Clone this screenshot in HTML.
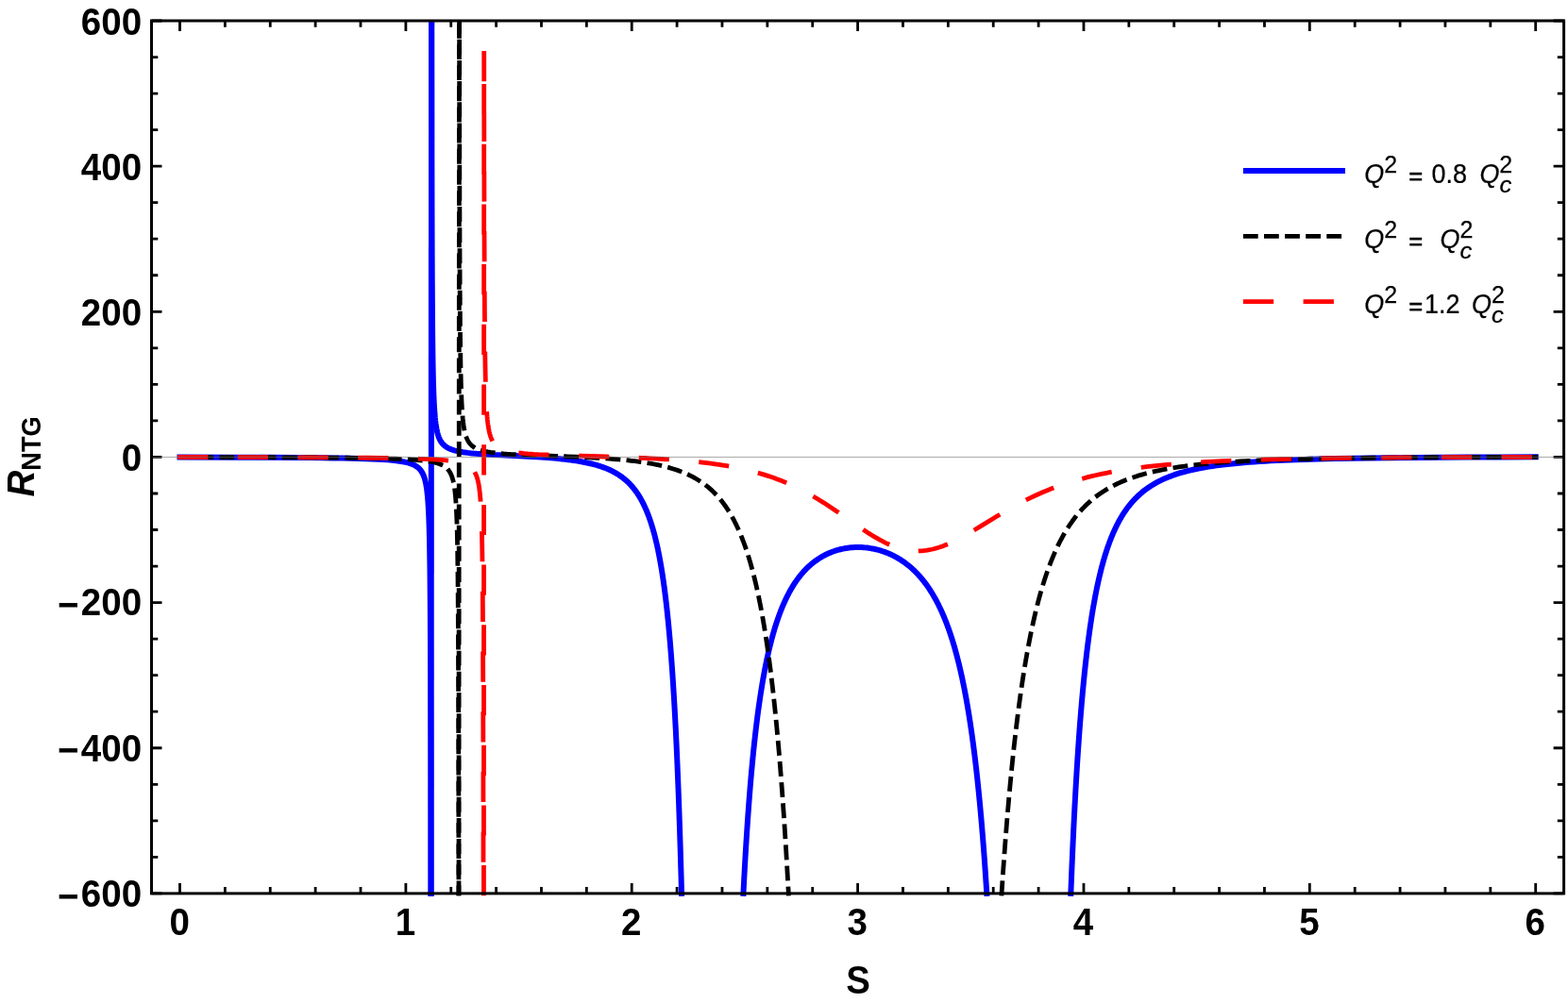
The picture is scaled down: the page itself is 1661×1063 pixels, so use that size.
<!DOCTYPE html>
<html><head><meta charset="utf-8"><title>R_NTG vs S</title>
<style>
html,body{margin:0;padding:0;background:#fff;}
body{width:1661px;height:1063px;overflow:hidden;}
svg{display:block;}
text{font-family:"Liberation Sans",sans-serif;fill:#000;}
.tl{font-weight:bold;font-size:41px;}
.lg{font-size:27px;}
</style></head><body>
<svg width="1661" height="1063" viewBox="0 0 1661 1063">
<rect width="1661" height="1063" fill="#fff"/>

<defs><clipPath id="pc"><rect x="150" y="21.6" width="1520" height="940"/></clipPath></defs>
<g clip-path="url(#pc)" fill="none" stroke-linecap="square" stroke-linejoin="bevel">
<g stroke="#0000ff" stroke-width="6.0">
<path d="M190.50 484.45L246.91 484.63L285.22 484.80L316.42 485.00L329.66 485.12L341.63 485.25L352.81 485.39L362.85 485.56L371.96 485.75L380.14 485.95L387.53 486.18L394.25 486.43L400.30 486.72L405.82 487.03L410.81 487.38L415.33 487.77L419.46 488.21L421.32 488.44L423.12 488.69L424.84 488.96L426.44 489.23L427.97 489.51L429.43 489.82L430.83 490.14L432.09 490.46L433.36 490.82L434.56 491.20L435.69 491.59L436.75 492.01L437.75 492.43L438.75 492.91L439.68 493.40L440.54 493.91L441.34 494.42L442.14 495.00L442.87 495.58L443.60 496.23L444.27 496.89L444.87 497.54L445.47 498.26L446.06 499.05L446.60 499.84L447.13 500.72L447.59 501.56L448.06 502.50L448.53 503.54L448.92 504.53L449.32 505.63L449.72 506.84L450.05 507.97L450.39 509.21L450.72 510.58L450.99 511.79L451.32 513.46L451.58 514.95L451.85 516.61L452.12 518.44L452.58 522.20L452.98 526.15L453.38 530.99L453.71 535.97L454.05 542.12L454.31 548.20L454.58 555.70L454.78 562.57L454.98 570.91L455.18 581.22L455.38 594.30L455.52 605.68L455.64 618.40L455.85 646.30L456.04 683.89L456.17 722.64L456.31 780.01L456.44 869.01L456.51 946.90"/>
<path d="M456.60 946.90L457.10 22.00"/>
<path d="M457.22 22.00L457.35 147.54L457.48 219.42L457.61 265.99L457.75 298.61L457.94 332.59L458.14 356.04L458.28 368.02L458.41 377.94L458.54 386.30L458.74 396.62L458.94 404.97L459.14 411.87L459.34 417.65L459.60 424.06L459.87 429.34L460.13 433.76L460.46 438.38L460.79 442.22L461.19 446.05L461.59 449.23L462.05 452.33L462.54 455.04L462.85 456.53L463.11 457.69L463.37 458.76L463.71 459.98L464.04 461.08L464.37 462.09L464.70 463.02L465.03 463.87L465.43 464.80L465.83 465.65L466.22 466.43L466.69 467.25L467.15 468.01L467.61 468.70L468.14 469.42L468.67 470.07L469.20 470.67L469.80 471.28L470.39 471.84L470.99 472.36L471.65 472.88L472.32 473.36L473.04 473.84L473.77 474.28L474.57 474.72L475.36 475.12L476.22 475.52L477.15 475.91L478.08 476.27L479.07 476.62L480.13 476.96L481.19 477.27L482.31 477.58L483.51 477.88L484.77 478.16L486.09 478.44L488.21 478.83L490.46 479.20L492.91 479.55L495.56 479.88L498.41 480.20L501.45 480.49L504.76 480.78L508.34 481.06L514.90 481.50L522.58 481.94L530.59 482.36L554.83 483.54L562.38 483.95L569.13 484.35L576.48 484.83L583.24 485.34L589.53 485.88L595.42 486.46L598.60 486.81L601.72 487.18L604.70 487.56L607.54 487.95L610.32 488.36L613.04 488.79L615.69 489.25L618.21 489.71L620.72 490.21L623.11 490.72L625.42 491.25L627.68 491.79L629.86 492.37L631.98 492.96L634.03 493.57L636.09 494.23L638.01 494.88L639.93 495.57L641.78 496.29L643.57 497.02L645.29 497.77L647.01 498.57L648.67 499.38L650.32 500.25L651.91 501.13L653.50 502.06L655.03 503.00L656.48 503.96L657.94 504.97L659.33 506.00L660.72 507.08L662.05 508.16L663.37 509.30L664.63 510.45L665.89 511.66L667.14 512.93L668.34 514.20L669.53 515.54L670.72 516.95L671.85 518.35L672.97 519.82L674.10 521.37L675.16 522.90L676.22 524.51L677.28 526.20L678.27 527.86L679.26 529.61L680.19 531.32L681.38 533.63L682.51 535.94L683.63 538.39L684.76 540.99L685.82 543.58L686.88 546.31L687.94 549.21L688.93 552.08L689.93 555.11L690.85 558.10L691.78 561.25L692.71 564.57L693.63 568.08L694.49 571.51L695.36 575.13L696.22 578.94L697.08 582.97L697.87 586.88L698.67 590.99L699.40 594.95L700.19 599.49L700.92 603.87L701.65 608.47L702.38 613.31L703.10 618.39L703.77 623.24L704.43 628.33L705.09 633.67L705.75 639.27L706.35 644.55L706.94 650.07L707.54 655.84L708.14 661.89L708.73 668.23L709.33 674.87L709.86 681.04L710.92 694.22L711.98 708.62L712.97 723.34L713.96 739.40L714.89 755.74L715.82 773.53L716.68 791.51L717.54 811.04L718.33 830.61L719.13 851.82L719.92 874.85L720.65 897.75L721.38 922.54L722.04 946.90"/>
<path d="M787.45 946.90L788.16 933.10L788.93 918.86L789.70 905.40L790.48 892.65L791.25 880.58L792.09 868.21L792.93 856.51L793.77 845.45L794.60 834.96L795.51 824.28L796.41 814.17L797.38 803.95L798.34 794.30L799.38 784.59L800.41 775.43L801.44 766.79L802.53 758.13L803.63 749.97L804.79 741.83L805.95 734.16L807.18 726.54L808.40 719.36L809.69 712.26L810.98 705.58L812.34 698.98L813.69 692.78L815.11 686.68L816.59 680.69L818.07 675.07L818.85 672.27L819.62 669.57L820.40 666.95L821.23 664.20L822.01 661.74L822.85 659.17L823.68 656.68L824.52 654.27L825.36 651.94L826.26 649.51L827.17 647.16L828.07 644.89L828.97 642.70L829.94 640.43L830.90 638.24L831.87 636.13L832.84 634.09L833.81 632.12L834.84 630.09L835.87 628.14L836.90 626.25L837.93 624.43L838.96 622.68L840.06 620.88L841.16 619.15L842.25 617.48L843.35 615.87L844.51 614.24L845.67 612.66L846.90 611.06L848.06 609.60L849.28 608.13L850.51 606.71L851.73 605.34L852.96 604.03L854.25 602.71L855.54 601.44L856.89 600.17L858.24 598.95L859.60 597.79L861.02 596.62L862.43 595.51L863.85 594.45L865.27 593.44L866.75 592.43L868.24 591.48L869.72 590.57L871.27 589.68L872.82 588.83L874.36 588.03L875.91 587.28L877.52 586.54L879.13 585.84L880.81 585.17L882.49 584.54L884.16 583.96L885.84 583.43L887.52 582.93L889.26 582.46L891.00 582.04L892.74 581.66L894.48 581.32L896.22 581.02L898.03 580.75L899.83 580.53L901.64 580.34L903.44 580.20L905.25 580.10L907.05 580.04L908.86 580.02L910.73 580.04L912.66 580.11L914.60 580.22L916.47 580.38L918.40 580.58L920.27 580.82L922.14 581.10L924.01 581.43L925.88 581.80L927.75 582.21L929.62 582.67L931.43 583.16L933.29 583.71L935.10 584.28L936.91 584.91L938.71 585.58L940.52 586.29L942.26 587.03L944.00 587.81L945.74 588.64L947.48 589.53L949.16 590.42L950.83 591.37L952.44 592.32L954.12 593.37L955.73 594.42L957.35 595.53L958.89 596.64L960.44 597.81L961.99 599.02L963.53 600.29L965.02 601.56L966.50 602.89L967.92 604.21L969.34 605.58L970.76 607.01L972.17 608.50L973.53 609.97L974.88 611.50L976.24 613.09L977.59 614.74L978.88 616.37L980.17 618.06L981.46 619.82L982.75 621.64L983.97 623.43L985.20 625.28L986.36 627.10L987.52 628.98L988.68 630.92L989.84 632.94L991.00 635.02L992.16 637.17L993.26 639.27L994.36 641.45L995.45 643.70L996.55 646.02L997.58 648.28L998.61 650.61L999.64 653.02L1000.67 655.51L1001.64 657.92L1002.61 660.40L1003.58 662.96L1004.54 665.61L1005.45 668.15L1006.35 670.77L1007.25 673.47L1008.15 676.26L1009.06 679.13L1009.96 682.09L1010.80 684.92L1012.47 690.85L1013.31 693.94L1014.15 697.13L1015.76 703.54L1017.31 710.07L1018.86 716.98L1020.34 724.01L1021.76 731.11L1023.18 738.63L1024.53 746.22L1025.88 754.24L1027.17 762.31L1028.46 770.85L1029.69 779.41L1030.91 788.45L1032.14 798.00L1033.30 807.56L1034.46 817.65L1035.56 827.71L1036.65 838.32L1037.68 848.84L1038.72 859.93L1039.75 871.62L1040.71 883.17L1041.68 895.32L1042.65 908.14L1043.55 920.73L1044.45 933.97L1045.29 946.90"/>
<path d="M1134.32 946.90L1135.43 919.38L1136.54 894.11L1137.15 880.97L1137.71 869.50L1138.26 858.76L1138.88 847.18L1139.49 836.09L1140.11 825.48L1140.72 815.31L1141.46 803.66L1142.08 794.38L1142.82 783.75L1143.43 775.27L1144.17 765.54L1144.91 756.25L1145.65 747.39L1146.39 738.93L1147.13 730.84L1147.87 723.11L1148.73 714.50L1149.59 706.33L1150.45 698.55L1151.31 691.15L1152.17 684.10L1153.04 677.37L1154.02 670.07L1154.88 663.98L1155.87 657.37L1156.85 651.08L1157.84 645.11L1158.82 639.42L1159.93 633.35L1160.92 628.23L1162.02 622.75L1163.13 617.56L1164.24 612.62L1165.35 607.94L1166.58 603.00L1167.81 598.33L1169.04 593.91L1170.27 589.72L1171.51 585.74L1172.86 581.60L1174.21 577.68L1175.57 573.98L1177.05 570.16L1178.52 566.56L1180.00 563.16L1181.48 559.95L1183.08 556.66L1184.68 553.56L1186.40 550.43L1188.13 547.48L1189.85 544.70L1190.71 543.37L1191.70 541.90L1193.55 539.27L1195.39 536.81L1196.38 535.55L1197.36 534.33L1199.33 532.01L1200.32 530.90L1201.43 529.70L1202.41 528.66L1203.52 527.53L1205.61 525.50L1207.58 523.70L1209.67 521.90L1211.77 520.20L1213.86 518.61L1216.08 517.02L1218.42 515.44L1220.76 513.97L1223.10 512.58L1225.56 511.21L1228.14 509.86L1230.73 508.60L1233.44 507.36L1236.15 506.20L1238.98 505.07L1241.93 503.97L1244.89 502.94L1247.97 501.94L1251.17 500.97L1254.49 500.03L1257.82 499.16L1261.26 498.32L1264.83 497.51L1268.53 496.74L1272.35 496.00L1276.29 495.29L1280.35 494.61L1284.53 493.96L1288.84 493.35L1293.28 492.77L1297.96 492.20L1302.76 491.67L1307.81 491.16L1312.73 490.69L1317.90 490.25L1323.20 489.83L1328.61 489.44L1334.28 489.06L1340.06 488.71L1346.22 488.37L1352.50 488.05L1359.03 487.75L1365.92 487.46L1373.06 487.19L1380.45 486.94L1396.09 486.48L1413.20 486.07L1431.55 485.73L1451.62 485.42L1473.66 485.16L1498.03 484.94L1524.88 484.75L1554.92 484.59L1588.53 484.47L1626.70 484.37"/>
</g>
<g stroke="#000000" stroke-width="4.8" stroke-dasharray="11.08 11.08">
<path d="M190.50 484.45L254.11 484.61L297.25 484.77L332.27 484.95L360.41 485.17L372.82 485.31L383.98 485.46L394.10 485.63L403.19 485.82L411.39 486.03L418.78 486.27L425.42 486.53L431.48 486.82L436.95 487.15L441.90 487.51L446.33 487.92L450.32 488.36L452.17 488.61L453.94 488.87L455.64 489.14L457.19 489.42L458.67 489.72L460.07 490.03L461.40 490.36L462.73 490.72L463.91 491.08L465.10 491.48L466.20 491.90L467.24 492.34L468.20 492.78L469.16 493.28L470.05 493.79L470.86 494.31L471.67 494.89L472.41 495.48L473.15 496.13L473.81 496.78L474.48 497.50L475.07 498.22L475.66 499.01L476.18 499.78L476.69 500.64L477.14 501.45L477.58 502.34L478.02 503.33L478.47 504.43L478.84 505.45L479.21 506.57L479.58 507.82L479.94 509.21L480.24 510.45L480.54 511.81L480.83 513.33L481.13 515.01L481.35 516.41L481.64 518.48L481.87 520.22L482.31 524.27L482.53 526.65L482.75 529.34L483.12 534.66L483.42 539.90L483.71 546.35L483.93 552.26L484.16 559.41L484.38 568.22L484.60 579.37L484.75 588.60L484.89 599.81L485.04 613.70L485.26 642.27L485.41 669.27L485.49 686.64L485.63 733.38L485.78 808.13L485.85 865.28L485.93 946.90"/>
<path d="M486.00 946.90L486.50 22.00"/>
<path d="M486.62 22.00L486.70 108.63L486.79 176.86L486.88 220.95L487.03 272.91L487.23 316.89L487.40 342.66L487.62 365.29L487.75 375.98L487.93 387.37L488.10 396.59L488.28 404.20L488.45 410.59L488.71 418.47L488.97 424.81L489.24 430.04L489.50 434.42L489.85 439.26L490.19 443.24L490.63 447.32L491.07 450.66L491.50 453.44L491.76 454.90L492.03 456.22L492.29 457.43L492.64 458.89L492.98 460.19L493.33 461.37L493.68 462.44L494.03 463.41L494.38 464.29L494.82 465.30L495.16 466.04L495.60 466.88L496.04 467.64L496.47 468.35L496.91 468.99L497.43 469.70L497.95 470.34L498.48 470.93L499.09 471.55L499.70 472.12L500.31 472.64L501.01 473.18L501.70 473.68L502.40 474.13L503.19 474.59L503.97 475.01L504.76 475.40L505.63 475.79L506.50 476.15L507.46 476.51L508.42 476.84L509.46 477.17L510.51 477.47L511.64 477.77L512.86 478.07L514.09 478.34L516.79 478.86L519.67 479.33L522.02 479.65L524.64 479.97L527.43 480.27L530.39 480.55L533.62 480.82L537.02 481.07L540.77 481.32L544.78 481.56L552.28 481.94L561.08 482.32L570.59 482.69L600.75 483.81L610.43 484.20L619.06 484.60L628.48 485.08L637.20 485.59L645.31 486.14L652.90 486.74L656.99 487.09L661.00 487.47L664.93 487.87L668.68 488.29L672.34 488.72L675.83 489.17L679.31 489.65L682.63 490.14L685.85 490.66L688.99 491.20L692.04 491.76L695.10 492.36L697.97 492.96L700.85 493.61L703.64 494.28L706.34 494.97L708.96 495.69L711.58 496.45L714.10 497.23L716.55 498.04L718.99 498.89L721.34 499.77L723.61 500.66L725.88 501.61L728.06 502.57L730.24 503.59L732.33 504.63L734.33 505.68L736.34 506.78L738.34 507.95L740.26 509.12L742.18 510.36L744.01 511.61L745.84 512.92L747.67 514.30L749.42 515.68L751.16 517.14L752.82 518.59L754.47 520.11L756.13 521.70L757.70 523.28L759.27 524.94L760.84 526.68L762.32 528.40L763.80 530.20L765.29 532.08L766.77 534.05L768.16 535.98L769.91 538.53L771.56 541.07L773.22 543.76L774.79 546.43L776.36 549.25L777.93 552.21L779.50 555.33L780.98 558.43L782.46 561.68L783.86 564.90L785.25 568.26L786.65 571.80L788.04 575.50L789.35 579.15L790.66 582.96L791.97 586.95L793.28 591.13L794.50 595.21L795.72 599.48L796.94 603.93L798.16 608.60L799.29 613.12L800.43 617.83L801.56 622.75L802.69 627.88L803.74 632.82L804.87 638.40L805.92 643.77L806.96 649.36L807.92 654.68L808.97 660.73L809.93 666.50L810.89 672.49L811.85 678.72L812.81 685.19L813.77 691.92L814.72 698.92L815.60 705.52L816.47 712.37L817.34 719.48L818.21 726.85L819.08 734.49L819.96 742.43L820.74 749.83L821.61 758.35L822.40 766.30L823.18 774.52L823.97 783.03L824.75 791.85L825.54 800.98L826.32 810.43L827.02 819.12L827.80 829.23L828.50 838.52L829.90 858.02L831.29 878.83L832.69 901.05L833.99 923.25L835.30 946.90"/>
<path d="M1061.04 946.90L1061.89 934.20L1062.74 921.94L1063.59 910.09L1064.58 896.77L1065.42 885.77L1066.41 873.40L1067.26 863.17L1068.25 851.67L1069.24 840.59L1070.23 829.94L1071.22 819.68L1072.21 809.80L1073.20 800.28L1074.19 791.10L1075.18 782.26L1076.32 772.55L1077.31 764.37L1078.44 755.38L1079.57 746.74L1080.70 738.45L1081.83 730.49L1082.96 722.83L1084.10 715.47L1085.37 707.53L1086.64 699.92L1087.92 692.64L1089.19 685.66L1090.46 678.97L1091.73 672.56L1093.15 665.75L1094.42 659.87L1095.84 653.62L1097.25 647.65L1098.67 641.93L1100.08 636.47L1101.64 630.73L1103.19 625.25L1104.75 620.03L1106.30 615.05L1107.86 610.30L1109.56 605.35L1111.25 600.65L1112.95 596.17L1114.65 591.90L1116.35 587.84L1118.19 583.65L1120.02 579.67L1121.86 575.88L1123.70 572.28L1125.68 568.60L1127.66 565.11L1128.65 563.43L1129.78 561.56L1130.77 559.97L1131.91 558.21L1134.03 555.03L1136.15 552.02L1137.28 550.49L1138.41 548.99L1139.54 547.53L1140.68 546.12L1141.81 544.74L1142.94 543.41L1144.07 542.11L1145.34 540.68L1146.48 539.46L1147.75 538.11L1149.02 536.81L1150.29 535.55L1151.57 534.32L1152.84 533.13L1154.11 531.98L1155.39 530.86L1156.66 529.77L1158.07 528.59L1160.48 526.68L1163.03 524.77L1165.57 522.96L1168.26 521.16L1170.95 519.45L1173.63 517.85L1176.46 516.25L1179.29 514.75L1182.26 513.27L1185.23 511.87L1188.35 510.49L1191.46 509.20L1194.71 507.92L1197.96 506.73L1201.36 505.56L1204.89 504.42L1208.57 503.32L1212.25 502.28L1216.07 501.28L1219.89 500.34L1223.85 499.43L1227.95 498.56L1232.19 497.71L1236.58 496.90L1241.11 496.13L1245.63 495.41L1250.44 494.70L1255.39 494.03L1260.48 493.39L1265.72 492.78L1271.09 492.21L1276.75 491.65L1282.27 491.15L1287.93 490.68L1293.87 490.22L1299.95 489.79L1306.31 489.38L1312.82 489.00L1319.61 488.63L1326.54 488.29L1333.76 487.96L1341.25 487.66L1349.03 487.37L1357.24 487.09L1365.72 486.84L1374.49 486.60L1393.17 486.16L1413.25 485.79L1435.18 485.47L1459.22 485.19L1485.82 484.95L1515.10 484.76L1547.91 484.60L1584.83 484.46L1626.70 484.36"/>
</g>
<g stroke="#ff0000" stroke-width="4.8" stroke-dasharray="27.4 36.3">
<path d="M190.50 484.45L260.61 484.60L308.05 484.74L346.41 484.91L377.20 485.12L390.71 485.24L402.93 485.39L413.87 485.54L423.76 485.72L432.60 485.92L440.64 486.14L447.88 486.39L454.39 486.66L460.26 486.97L465.57 487.31L470.39 487.69L474.66 488.12L476.67 488.35L478.51 488.59L480.28 488.85L481.97 489.12L483.58 489.41L485.03 489.70L486.47 490.02L487.84 490.35L489.13 490.71L490.33 491.07L491.46 491.46L492.59 491.88L493.63 492.32L494.60 492.78L495.56 493.28L496.45 493.80L497.25 494.32L498.05 494.90L498.78 495.48L499.50 496.12L500.14 496.76L500.79 497.47L501.43 498.26L501.99 499.03L502.56 499.89L503.04 500.71L503.52 501.62L504.00 502.64L504.49 503.77L504.89 504.83L505.29 506.02L505.61 507.06L505.93 508.21L506.25 509.48L506.58 510.89L506.90 512.47L507.22 514.24L507.46 515.72L507.70 517.36L507.94 519.17L508.35 522.67L508.75 526.95L509.15 532.29L509.47 537.62L509.79 544.28L510.03 550.47L510.28 558.08L510.52 567.66L510.68 575.55L510.84 585.09L511.00 596.85L511.16 611.70L511.37 638.51L511.56 674.35L511.72 720.83L511.88 797.34L511.96 857.71L512.04 946.90"/>
<path d="M512.45 946.90L512.74 55.76L512.81 117.73L512.95 209.35L513.02 241.41L513.14 278.05L513.30 314.78L513.39 329.57L513.58 354.08L513.73 368.21L513.86 378.57L514.14 395.29L514.42 407.44L514.69 416.66L514.97 423.90L515.25 429.74L515.53 434.54L515.81 438.57L516.09 441.98L516.37 444.93L516.64 447.48L516.92 449.72L517.20 451.71L517.48 453.48L517.76 455.06L518.04 456.49L518.32 457.78L518.59 458.96L518.87 460.04L519.15 461.03L519.71 462.78L519.99 463.56L520.54 464.96L521.10 466.18L521.66 467.26L522.22 468.21L522.49 468.65L523.05 469.45L523.61 470.18L524.44 471.15L525.28 471.98L526.12 472.72L526.95 473.38L528.07 474.14L529.18 474.80L530.29 475.38L531.41 475.90L532.52 476.35L533.64 476.76L535.03 477.22L536.42 477.62L538.09 478.05L539.77 478.43L541.44 478.76L543.11 479.06L545.06 479.37L547.01 479.65L549.24 479.93L551.46 480.18L553.97 480.43L556.48 480.66L559.26 480.88L565.39 481.30L570.69 481.60L576.26 481.87L582.66 482.14L589.63 482.40L603.55 482.85L634.75 483.75L648.68 484.17L663.17 484.67L675.98 485.18L682.94 485.50L689.35 485.81L695.76 486.15L701.89 486.51L707.74 486.88L713.59 487.29L719.16 487.71L724.45 488.15L729.46 488.59L734.48 489.07L739.21 489.56L743.95 490.08L748.68 490.65L753.14 491.22L757.60 491.83L761.78 492.45L765.95 493.10L770.13 493.80L774.31 494.55L778.21 495.29L782.11 496.07L785.73 496.84L789.63 497.72L793.25 498.59L797.15 499.57L801.05 500.62L804.95 501.72L808.85 502.89L812.75 504.13L816.37 505.33L819.99 506.60L823.62 507.94L827.24 509.34L830.86 510.81L834.48 512.34L837.82 513.83L841.44 515.50L844.79 517.11L848.13 518.78L851.75 520.66L854.54 522.15L857.60 523.84L860.39 525.42L863.45 527.21L866.51 529.05L869.58 530.93L872.64 532.85L875.99 535.00L881.56 538.67L887.41 542.64L892.98 546.49L905.51 555.25L911.36 559.27L916.65 562.81L919.16 564.44L921.39 565.86L923.62 567.25L925.85 568.61L928.08 569.93L930.30 571.20L932.53 572.43L934.48 573.47L936.71 574.61L938.66 575.56L940.89 576.59L943.12 577.57L945.35 578.48L947.30 579.23L949.52 580.02L951.47 580.65L953.42 581.24L955.37 581.76L957.60 582.30L959.55 582.70L961.50 583.05L963.45 583.34L965.68 583.60L967.63 583.76L969.58 583.87L971.53 583.91L973.48 583.90L975.71 583.81L977.94 583.65L980.17 583.41L982.39 583.10L984.62 582.71L986.85 582.26L989.08 581.73L991.31 581.14L993.54 580.49L995.77 579.77L998.27 578.89L1000.50 578.05L1003.01 577.04L1005.51 575.97L1008.02 574.84L1009.97 573.92L1011.92 572.96L1013.87 571.98L1016.10 570.83L1018.33 569.64L1020.56 568.42L1025.29 565.75L1029.47 563.31L1034.21 560.47L1038.94 557.60L1052.59 549.24L1057.05 546.55L1060.95 544.22L1065.40 541.61L1069.86 539.06L1074.04 536.72L1077.94 534.60L1082.68 532.09L1087.13 529.82L1091.59 527.63L1096.05 525.52L1100.50 523.49L1104.96 521.55L1109.42 519.69L1114.15 517.80L1118.61 516.11L1123.07 514.50L1127.52 512.97L1132.26 511.42L1136.99 509.95L1141.73 508.56L1146.47 507.25L1151.48 505.93L1156.49 504.69L1161.51 503.53L1166.52 502.43L1171.81 501.34L1177.11 500.32L1182.68 499.32L1188.25 498.38L1193.82 497.50L1200.51 496.52L1207.47 495.59L1214.43 494.73L1221.68 493.91L1229.20 493.13L1237.00 492.40L1245.07 491.70L1253.15 491.07L1261.79 490.47L1270.70 489.90L1279.89 489.37L1289.37 488.88L1299.39 488.42L1309.70 488.00L1320.56 487.60L1331.99 487.23L1343.68 486.89L1355.94 486.59L1368.75 486.30L1382.13 486.05L1396.33 485.81L1411.37 485.59L1427.25 485.39L1443.97 485.22L1461.51 485.06L1480.46 484.92L1522.24 484.68L1570.43 484.49L1626.70 484.36"/>
</g>
</g>
<path d="M190.50 946.9v-11.0M190.50 22.0v11.0M238.37 946.9v-6.8M238.37 22.0v6.8M286.25 946.9v-6.8M286.25 22.0v6.8M334.12 946.9v-6.8M334.12 22.0v6.8M381.99 946.9v-6.8M381.99 22.0v6.8M429.87 946.9v-11.0M429.87 22.0v11.0M477.74 946.9v-6.8M477.74 22.0v6.8M525.61 946.9v-6.8M525.61 22.0v6.8M573.49 946.9v-6.8M573.49 22.0v6.8M621.36 946.9v-6.8M621.36 22.0v6.8M669.23 946.9v-11.0M669.23 22.0v11.0M717.11 946.9v-6.8M717.11 22.0v6.8M764.98 946.9v-6.8M764.98 22.0v6.8M812.85 946.9v-6.8M812.85 22.0v6.8M860.73 946.9v-6.8M860.73 22.0v6.8M908.60 946.9v-11.0M908.60 22.0v11.0M956.47 946.9v-6.8M956.47 22.0v6.8M1004.35 946.9v-6.8M1004.35 22.0v6.8M1052.22 946.9v-6.8M1052.22 22.0v6.8M1100.09 946.9v-6.8M1100.09 22.0v6.8M1147.97 946.9v-11.0M1147.97 22.0v11.0M1195.84 946.9v-6.8M1195.84 22.0v6.8M1243.71 946.9v-6.8M1243.71 22.0v6.8M1291.59 946.9v-6.8M1291.59 22.0v6.8M1339.46 946.9v-6.8M1339.46 22.0v6.8M1387.33 946.9v-11.0M1387.33 22.0v11.0M1435.21 946.9v-6.8M1435.21 22.0v6.8M1483.08 946.9v-6.8M1483.08 22.0v6.8M1530.95 946.9v-6.8M1530.95 22.0v6.8M1578.83 946.9v-6.8M1578.83 22.0v6.8M1626.70 946.9v-11.0M1626.70 22.0v11.0M160.5 946.90h11.0M1656.6 946.90h-11.0M160.5 908.36h6.8M1656.6 908.36h-6.8M160.5 869.83h6.8M1656.6 869.83h-6.8M160.5 831.29h6.8M1656.6 831.29h-6.8M160.5 792.75h11.0M1656.6 792.75h-11.0M160.5 754.21h6.8M1656.6 754.21h-6.8M160.5 715.67h6.8M1656.6 715.67h-6.8M160.5 677.14h6.8M1656.6 677.14h-6.8M160.5 638.60h11.0M1656.6 638.60h-11.0M160.5 600.06h6.8M1656.6 600.06h-6.8M160.5 561.52h6.8M1656.6 561.52h-6.8M160.5 522.99h6.8M1656.6 522.99h-6.8M160.5 484.45h11.0M1656.6 484.45h-11.0M160.5 445.91h6.8M1656.6 445.91h-6.8M160.5 407.38h6.8M1656.6 407.38h-6.8M160.5 368.84h6.8M1656.6 368.84h-6.8M160.5 330.30h11.0M1656.6 330.30h-11.0M160.5 291.76h6.8M1656.6 291.76h-6.8M160.5 253.22h6.8M1656.6 253.22h-6.8M160.5 214.69h6.8M1656.6 214.69h-6.8M160.5 176.15h11.0M1656.6 176.15h-11.0M160.5 137.61h6.8M1656.6 137.61h-6.8M160.5 99.08h6.8M1656.6 99.08h-6.8M160.5 60.54h6.8M1656.6 60.54h-6.8M160.5 22.00h11.0M1656.6 22.00h-11.0" stroke="#000" stroke-width="2.8" fill="none"/>
<rect x="160.5" y="22.0" width="1496.1" height="924.9" fill="none" stroke="#000" stroke-width="3"/>
<line x1="162.0" y1="484.45" x2="1655.1" y2="484.45" stroke="#6e6e6e" stroke-width="0.6"/>
<text class="tl" transform="translate(190.10,991.30) scale(0.941,1)" text-anchor="middle">0</text>
<text class="tl" transform="translate(429.47,991.30) scale(0.941,1)" text-anchor="middle">1</text>
<text class="tl" transform="translate(668.83,991.30) scale(0.941,1)" text-anchor="middle">2</text>
<text class="tl" transform="translate(908.20,991.30) scale(0.941,1)" text-anchor="middle">3</text>
<text class="tl" transform="translate(1147.57,991.30) scale(0.941,1)" text-anchor="middle">4</text>
<text class="tl" transform="translate(1386.93,991.30) scale(0.941,1)" text-anchor="middle">5</text>
<text class="tl" transform="translate(1626.30,991.30) scale(0.941,1)" text-anchor="middle">6</text>
<text class="tl" transform="translate(152.20,960.75) scale(0.941,1)" text-anchor="end"><tspan dx="-2.1" dy="2.8">−</tspan><tspan dx="2.1" dy="-2.8">600</tspan></text>
<text class="tl" transform="translate(152.20,806.60) scale(0.941,1)" text-anchor="end"><tspan dx="-2.1" dy="2.8">−</tspan><tspan dx="2.1" dy="-2.8">400</tspan></text>
<text class="tl" transform="translate(152.20,652.45) scale(0.941,1)" text-anchor="end"><tspan dx="-2.1" dy="2.8">−</tspan><tspan dx="2.1" dy="-2.8">200</tspan></text>
<text class="tl" transform="translate(150.20,498.95) scale(0.941,1)" text-anchor="end">0</text>
<text class="tl" transform="translate(150.20,344.80) scale(0.941,1)" text-anchor="end">200</text>
<text class="tl" transform="translate(150.20,190.65) scale(0.941,1)" text-anchor="end">400</text>
<text class="tl" transform="translate(150.20,36.50) scale(0.941,1)" text-anchor="end">600</text>
<text class="tl" transform="translate(909.0,1052.7) scale(0.905,1)" font-size="42.4px" style="font-size:42.4px" text-anchor="middle">S</text>
<text class="tl" transform="translate(36.4,483.9) rotate(-90) scale(0.941,1)" text-anchor="middle"><tspan font-style="italic">R</tspan><tspan font-size="29px" dy="6.3">NTG</tspan></text>
<line x1="1316.9" y1="181.0" x2="1425.0" y2="181.0" stroke="#0000ff" stroke-width="6"/>
<line x1="1316.9" y1="250.3" x2="1425.0" y2="250.3" stroke="#000" stroke-width="4.8" stroke-dasharray="15.8 6.3"/>
<line x1="1316.9" y1="319.6" x2="1425.0" y2="319.6" stroke="#ff0000" stroke-width="4.8" stroke-dasharray="32.3 31.4"/>
<g stroke="#000" stroke-width="0.25"><text transform="translate(1445.30,193.50) scale(0.9,1)" font-size="30.0px" font-style="italic">Q</text><text transform="translate(1466.20,182.50) scale(1.0,1)" font-size="25.0px">2</text><text transform="translate(1492.40,194.50) scale(0.83,0.775)" font-size="30.0px" stroke-width="1.0">=</text><text transform="translate(1516.60,193.50) scale(0.9,1)" font-size="30.0px">0.8</text><text transform="translate(1567.40,193.50) scale(0.9,1)" font-size="30.0px" font-style="italic">Q</text><text transform="translate(1588.30,182.50) scale(1.0,1)" font-size="25.0px">2</text><text transform="translate(1588.40,204.10) scale(1.07,1)" font-size="24.0px" font-style="italic">c</text></g>
<g stroke="#000" stroke-width="0.25"><text transform="translate(1445.30,263.00) scale(0.9,1)" font-size="30.0px" font-style="italic">Q</text><text transform="translate(1466.20,252.00) scale(1.0,1)" font-size="25.0px">2</text><text transform="translate(1492.40,264.00) scale(0.83,0.775)" font-size="30.0px" stroke-width="1.0">=</text><text transform="translate(1525.60,263.00) scale(0.9,1)" font-size="30.0px" font-style="italic">Q</text><text transform="translate(1546.50,252.00) scale(1.0,1)" font-size="25.0px">2</text><text transform="translate(1546.60,273.60) scale(1.07,1)" font-size="24.0px" font-style="italic">c</text></g>
<g stroke="#000" stroke-width="0.25"><text transform="translate(1445.30,331.80) scale(0.9,1)" font-size="30.0px" font-style="italic">Q</text><text transform="translate(1466.20,320.80) scale(1.0,1)" font-size="25.0px">2</text><text transform="translate(1492.40,332.80) scale(0.83,0.775)" font-size="30.0px" stroke-width="1.0">=</text><text transform="translate(1509.00,331.80) scale(0.9,1)" font-size="30.0px">1.2</text><text transform="translate(1559.00,331.80) scale(0.9,1)" font-size="30.0px" font-style="italic">Q</text><text transform="translate(1579.90,320.80) scale(1.0,1)" font-size="25.0px">2</text><text transform="translate(1580.00,342.40) scale(1.07,1)" font-size="24.0px" font-style="italic">c</text></g>
</svg></body></html>
